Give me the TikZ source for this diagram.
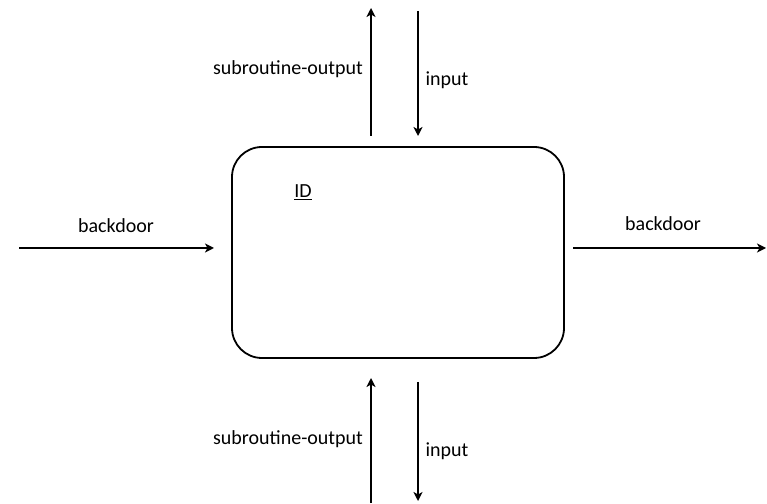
\documentclass[tikz,border=0pt]{standalone}
\usepackage{fontspec}
\setmainfont{Carlito}
\usetikzlibrary{arrows.meta}
\begin{document}
\begin{tikzpicture}[x=1pt,y=1pt,
  lbl/.style={font=\fontsize{20}{23}\selectfont, text=black, inner sep=0pt},
  arr/.style={line width=1.8pt, -{Stealth[length=9pt,width=9pt,inset=2.5pt]}},
  box/.style={draw, line width=1.8pt, rounded corners=30pt, minimum width=332pt, minimum height=211pt}]
\useasboundingbox (0,0) rectangle (767,503);
\node[box] (id) at (398,250.5) {};
\node[lbl, anchor=base] (idl) at (303,305) {\underbar{ID}};
% top
\coordinate (tus) at (371,367);
\coordinate (tue) at (371,495);
\coordinate (tds) at (418,492);
\coordinate (tde) at (418,367);
\draw[arr] (tus) -- (tue);
\draw[arr] (tds) -- (tde);
\node[lbl] (tso) at (288,434) {subroutine-output};
\node[lbl] (tin) at (447,423) {input};
% bottom
\coordinate (bus) at (371,0);
\coordinate (bue) at (371,125);
\coordinate (bds) at (418,121);
\coordinate (bde) at (418,2);
\draw[arr] (bus) -- (bue);
\draw[arr] (bds) -- (bde);
\node[lbl] (bso) at (288,64) {subroutine-output};
\node[lbl] (bin) at (447,52) {input};
% left
\coordinate (ls) at (19,255);
\coordinate (le) at (214,255);
\draw[arr] (ls) -- (le);
\node[lbl] (lbd) at (116,277) {backdoor};
% right
\coordinate (rs) at (573,255);
\coordinate (re) at (766,255);
\draw[arr] (rs) -- (re);
\node[lbl] (rbd) at (663,279) {backdoor};
\end{tikzpicture}
\end{document}
